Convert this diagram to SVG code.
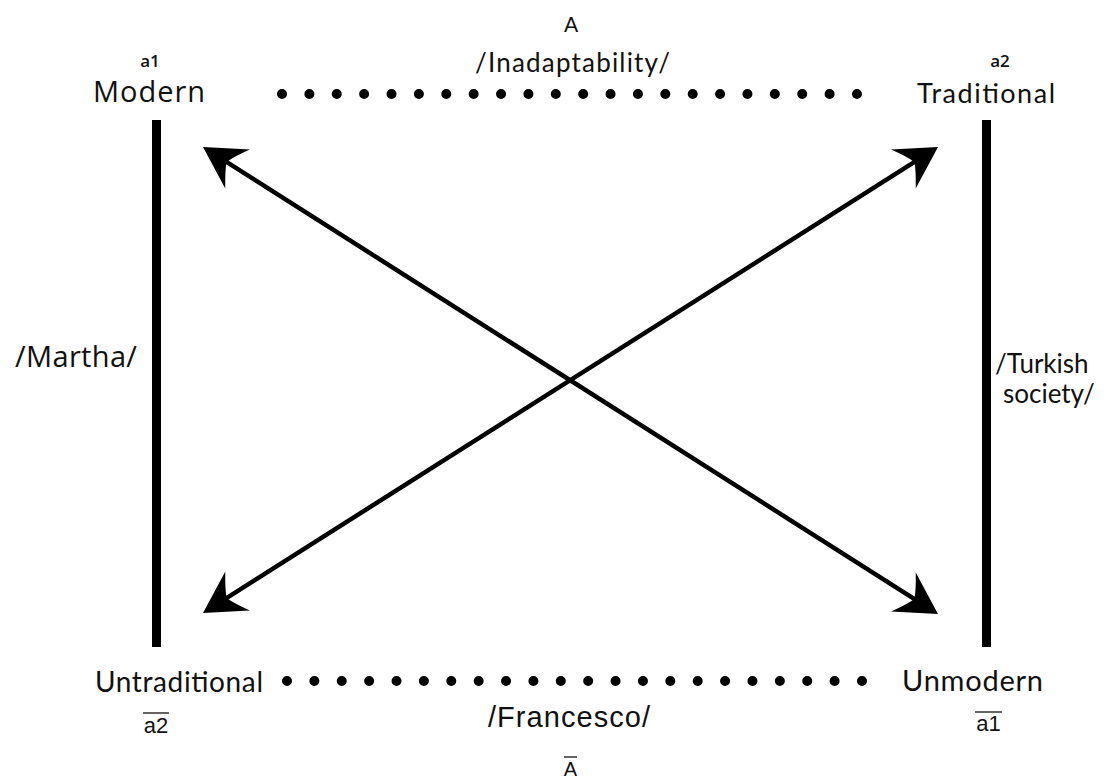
<svg xmlns="http://www.w3.org/2000/svg" width="1115" height="778" viewBox="0 0 1115 778">
  <style>
    .geo { font-family: "Lato", "Open Sans", sans-serif; fill: #111; }
    .hum { font-family: "Open Sans", "Noto Sans", sans-serif; fill: #111; }
    .ari { font-family: "Liberation Sans", Arial, sans-serif; fill: #111; }
    .tag { font-family: "Open Sans", "Noto Sans", sans-serif; font-weight: 600; fill: #111; }
    .bar { fill: #000; }
    .diag { stroke: #000; stroke-width: 4.5; fill: none; marker-start: url(#head); marker-end: url(#head); }
    .dots { stroke: #000; stroke-width: 10; stroke-linecap: round; stroke-dasharray: 0 27.38; fill: none; }
    .over { stroke: #222; stroke-width: 1.4; }
  </style>
  <defs>
    <marker id="head" markerUnits="userSpaceOnUse" orient="auto-start-reverse" refX="0" refY="0" markerWidth="80" markerHeight="80" viewBox="-40 -40 80 80" overflow="visible">
      <path d="M25,0 L-16,-23 Q-6,-8 -3,0 Q-6,8 -16,23 Z" fill="#000"/>
    </marker>
  </defs>

  <rect width="1115" height="778" fill="#fff"/>

  <!-- contradiction bars and diagonal connectors -->
  <g id="connectors">
    <rect class="bar" x="152" y="120" width="9" height="527"/>
    <rect class="bar" x="982" y="120" width="9" height="527"/>
    <line class="diag" x1="224.1" y1="160.4" x2="916.9" y2="600.6"/>
    <line class="diag" x1="224.1" y1="599.6" x2="916.9" y2="160.4"/>
    <line class="dots" x1="282" y1="94" x2="857" y2="94"/>
    <line class="dots" x1="287" y1="681" x2="862" y2="681"/>
  </g>

  <g id="node-modern">
    <text class="tag" x="150" y="67" font-size="17" text-anchor="middle">a1</text>
    <text class="hum" x="93" y="102" font-size="29" textLength="112" lengthAdjust="spacing">Modern</text>
  </g>

  <g id="node-traditional">
    <text class="tag" x="1000" y="67" font-size="17" text-anchor="middle">a2</text>
    <text class="geo" x="917" y="103" font-size="27" textLength="138" lengthAdjust="spacing">Traditional</text>
  </g>

  <g id="node-untraditional">
    <text class="geo" x="95" y="692" font-size="28" textLength="168" lengthAdjust="spacing">Untraditional</text>
    <text class="ari" x="156" y="733" font-size="22" text-anchor="middle">a2</text>
    <line class="over" x1="143" y1="713" x2="169" y2="713"/>
  </g>

  <g id="node-unmodern">
    <text class="geo" x="902" y="691" font-size="29" textLength="141" lengthAdjust="spacing">Unmodern</text>
    <text class="ari" x="988.5" y="731" font-size="22" text-anchor="middle">a1</text>
    <line class="over" x1="975" y1="712" x2="1002" y2="712"/>
  </g>

  <g id="label-top">
    <text class="geo" x="571" y="32" font-size="21" text-anchor="middle">A</text>
    <text class="geo" x="475" y="72" font-size="26" textLength="195" lengthAdjust="spacing">/Inadaptability/</text>
  </g>

  <g id="label-bottom">
    <text class="ari" x="488" y="727" font-size="29" textLength="162" lengthAdjust="spacing">/Francesco/</text>
    <text class="ari" x="570.5" y="776" font-size="20" text-anchor="middle">A</text>
    <line class="over" x1="564" y1="757" x2="577" y2="757"/>
  </g>

  <g id="label-left">
    <text class="hum" x="15" y="367" font-size="29" textLength="122" lengthAdjust="spacing">/Martha/</text>
  </g>

  <g id="label-right">
    <text class="geo" x="995" y="373" font-size="26">/Turkish</text>
    <text class="geo" x="1003" y="403" font-size="26">society/</text>
  </g>
</svg>
